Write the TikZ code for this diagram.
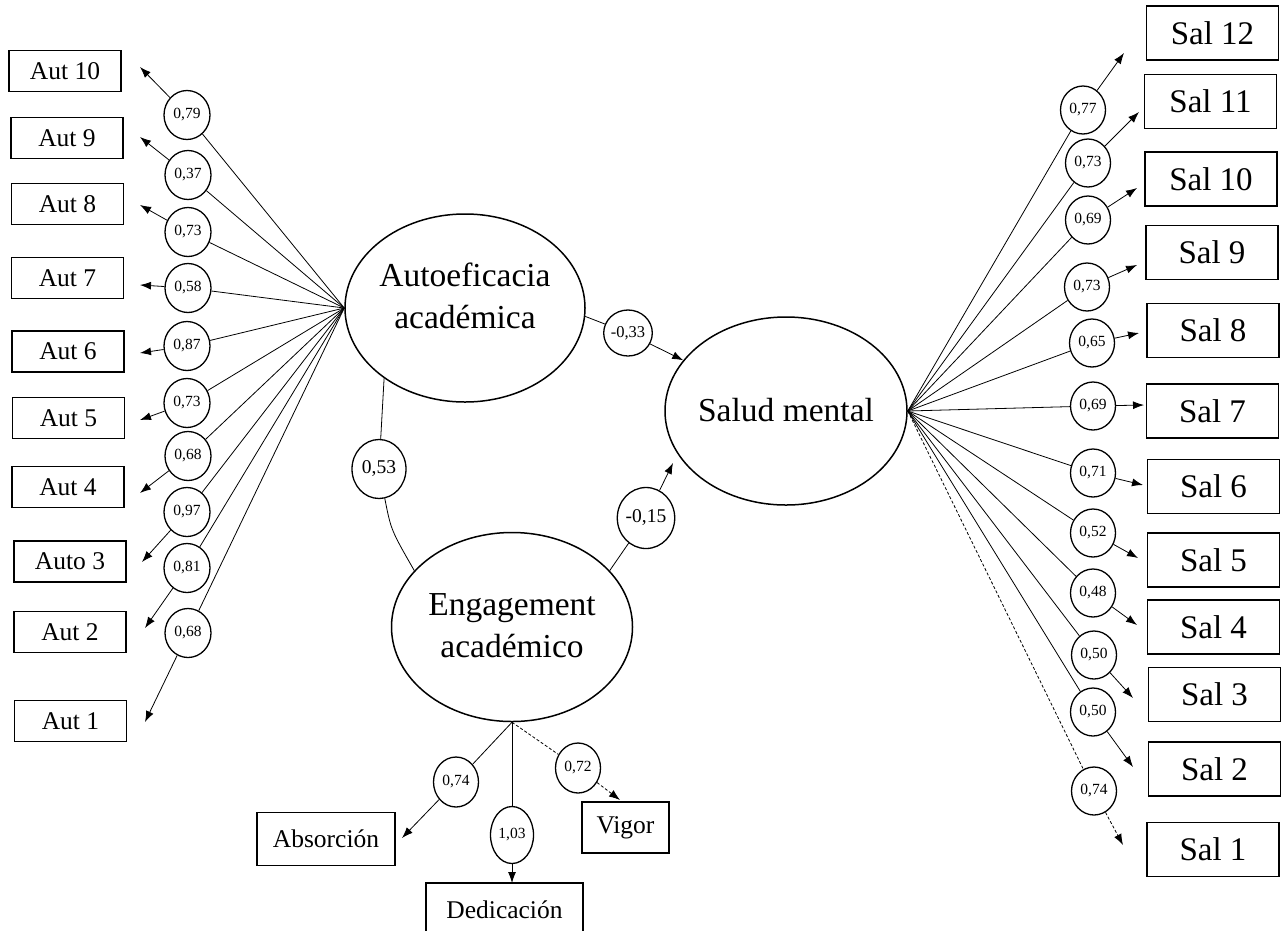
\documentclass[tikz,border=0pt]{standalone}
\usepackage{fontspec}
\setmainfont{Liberation Serif}
\usetikzlibrary{shapes.geometric,arrows.meta}
\begin{document}
\begin{tikzpicture}[x=1pt,y=-1pt,
  obs/.style={draw,line width=1.5pt,rectangle,inner sep=0pt,minimum width=112pt,minimum height=41pt,font=\fontsize{25.5}{30}\selectfont},
  salbox/.style={draw,line width=1.5pt,rectangle,inner sep=0pt,minimum width=132pt,minimum height=54pt,font=\fontsize{33}{38}\selectfont},
  engbox/.style={draw,line width=1.5pt,rectangle,inner sep=0pt,minimum height=53pt,font=\fontsize{25.5}{30}\selectfont},
  lat/.style={draw,line width=1.5pt,ellipse,inner sep=0pt,minimum width=240pt,minimum height=188pt},
  lattext/.style={align=center,inner sep=0pt,font=\fontsize{33.5}{42}\selectfont},
  ld/.style={draw,line width=1.3pt,ellipse,inner sep=0pt,minimum width=46pt,minimum height=49pt,font=\fontsize{15.5}{18}\selectfont},
  conn/.style={line width=0.8pt},
  arr/.style={conn,-{Latex[length=11pt,width=8pt]}},
  dsh/.style={dash pattern=on 3pt off 2pt}
]
\useasboundingbox (0,0) rectangle (1287,930);

% latent variables
\node[lat] (AE) at (465,308) {};
\node[lattext] (AEt) at (465,296) {Autoeficacia\\académica};
\node[lat, minimum width=242pt] (SM) at (786,411) {};
\node[lattext] (SMt) at (786,410) {Salud mental};
\node[lat, minimum width=241pt, minimum height=189pt] (EA) at (512,627) {};
\node[lattext] (EAt) at (512,626) {Engagement\\académico};

% Autoeficacia indicators
\foreach \n/\bx/\by/\txt/\cx/\cy/\lab/\tx/\ty in {
  10/65/71/{Aut 10}/187/115/{0,79}/140/67,
  9/67/138/{Aut 9}/188/175/{0,37}/140/137,
  8/67.5/204/{Aut 8}/188/232/{0,73}/140/205,
  7/67.5/278/{Aut 7}/188/288/{0,58}/140/285,
  6/68/351.5/{Aut 6}/187/346/{0,87}/140/353,
  5/68.5/418/{Aut 5}/187/403/{0,73}/140/420,
  4/68/487/{Aut 4}/188/456/{0,68}/140/493,
  3/70/561.5/{Auto 3}/187/512/{0,97}/142/562,
  2/70/632/{Aut 2}/187/568/{0,81}/145/628,
  1/70.5/721/{Aut 1}/188/633/{0,68}/145/722}{
  \node[obs] (a\n) at (\bx,\by) {\txt};
  \node[ld] (la\n) at (\cx,\cy) {\lab};
  \coordinate (ta\n) at (\tx,\ty);
  \draw[conn] (AE.west) -- (la\n);
  \draw[arr] (la\n) -- (ta\n);
}

% Salud mental indicators
\foreach \n/\bx/\by/\cx/\cy/\lab/\tx/\ty in {
  12/1212.5/33/1083/110/{0,77}/1124/53,
  11/1210.5/101.5/1088/163/{0,73}/1139/112,
  10/1211/179/1088/220/{0,69}/1137/188,
  9/1212/252.5/1087/287/{0,73}/1137/265,
  8/1213/330.5/1092/343/{0,65}/1139/333,
  7/1212.5/411/1093/406/{0,69}/1144/405,
  6/1213.5/486.5/1093/473/{0,71}/1143/485,
  5/1213.5/560/1093/533/{0,52}/1138/558,
  4/1213.5/627/1093/593/{0,48}/1137/625,
  3/1214.5/694.5/1094/655/{0,50}/1133/698,
  2/1214.5/769/1093/712/{0,50}/1133/767}{
  \node[salbox] (s\n) at (\bx,\by) {Sal \n};
  \node[ld, minimum width=45pt, minimum height=48pt] (ls\n) at (\cx,\cy) {\lab};
  \coordinate (ts\n) at (\tx,\ty);
  \draw[conn] (SM.east) -- (ls\n);
  \draw[arr] (ls\n) -- (ts\n);
}
\node[salbox] (s1) at (1213,849.5) {Sal 1};
\node[ld, minimum width=45pt, minimum height=48pt] (ls1) at (1094,791) {0,74};
\coordinate (ts1) at (1123,845);
\draw[conn,dsh] (SM.east) -- (ls1);
\draw[arr,dsh] (ls1) -- (ts1);

% structural paths
\node[ld, minimum width=40pt, minimum height=46pt, font=\fontsize{16.5}{18}\selectfont] (c33) at (628,333) {-0,33};
\draw[conn] (AE.-4) -- (c33);
\draw[arr] (c33) -- (SM);

\node[ld, minimum width=54pt, minimum height=61pt, font=\fontsize{19.5}{22}\selectfont] (c15) at (646,518) {-0,15};
\coordinate (t15) at (673,463);
\draw[conn] (EA.30) -- (c15);
\draw[arr] (c15) -- (t15);

\node[ld, minimum width=54pt, minimum height=59pt, font=\fontsize{19.5}{22}\selectfont] (c53) at (379,469) {0,53};
\draw[conn] (AE.221) -- (c53);
\draw[conn] (c53) .. controls (391,530) .. (EA.150);

% Engagement indicators
\node[engbox, minimum width=138pt] (abs) at (326,839) {Absorción};
\node[engbox, minimum width=157pt, minimum height=54pt] (ded) at (504.5,910) {Dedicación};
\node[engbox, minimum width=87pt, minimum height=51pt] (vig) at (625.5,827.5) {Vigor};

\node[ld, minimum width=45pt, minimum height=50pt] (c74) at (456,782) {0,74};
\node[ld, minimum width=43pt, minimum height=57pt] (c103) at (512,835) {1,03};
\node[ld, minimum width=45pt, minimum height=50pt] (c72) at (578,768) {0,72};
\coordinate (tA) at (402,838);
\coordinate (tD) at (512,883);
\coordinate (tV) at (620,800);
\draw[conn] (EA.south) -- (c74);
\draw[arr] (c74) -- (tA);
\draw[conn] (EA.south) -- (c103);
\draw[arr] (c103) -- (tD);
\draw[conn,dsh] (EA.south) -- (c72);
\draw[arr,dsh] (c72) -- (tV);
\end{tikzpicture}
\end{document}
